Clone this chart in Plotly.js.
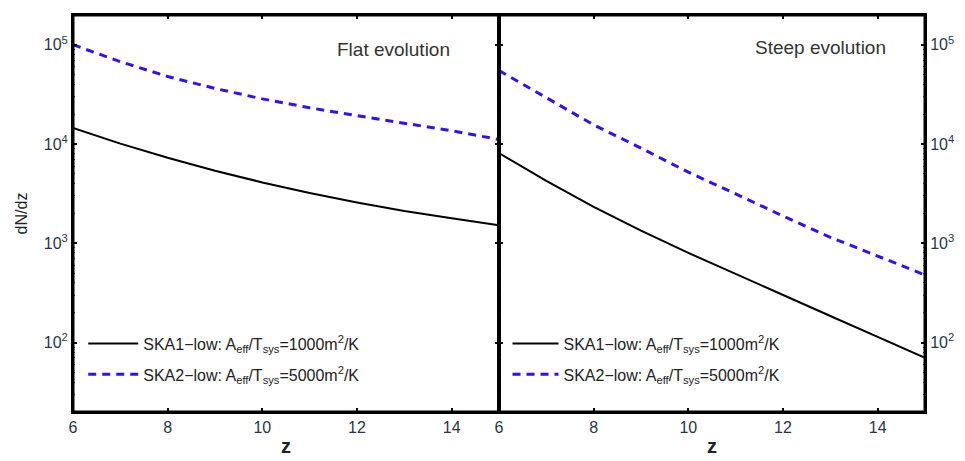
<!DOCTYPE html>
<html>
<head>
<meta charset="utf-8">
<script src="https://cdn.plot.ly/plotly-3.0.1.min.js"></script>
<style>html,body{margin:0;padding:0;background:#fff;}#chart{width:965px;height:461px;}</style>
</head>
<body>
<div id="chart"></div>
<script>
const z = [6, 7, 8, 9, 10, 11, 12, 13, 14, 15];
const flatSKA1 = [14500, 10100, 7260, 5380, 4100, 3210, 2580, 2120, 1790, 1520];
const flatSKA2 = [100000, 67600, 47900, 36300, 28500, 23200, 19300, 16200, 13600, 11100];
const steepSKA1 = [8100, 4250, 2330, 1340, 800, 488, 300, 185, 114, 70];
const steepSKA2 = [55000, 29000, 15600, 9100, 5200, 3150, 1880, 1150, 740, 480];
const seriesNames = [
  'SKA1\u2212low: A<sub>eff</sub>/T<sub>sys</sub>=1000m<sup>2</sup>/K',
  'SKA2\u2212low: A<sub>eff</sub>/T<sub>sys</sub>=5000m<sup>2</sup>/K'
];
const panelLabels = ['Flat evolution', 'Steep evolution'];
const xTicks = [6, 8, 10, 12, 14];
const yTicks = [100, 1000, 10000, 100000];
const yTickText = ['10<sup>2</sup>', '10<sup>3</sup>', '10<sup>4</sup>', '10<sup>5</sup>'];

const minorY = [];
for (let d = 10; d <= 100000; d *= 10) for (let m = 2; m <= 9; m++) minorY.push(m * d);

const FONT = 'Liberation Sans, Arial, sans-serif';
const blue = '#3311ee';
const solid = {color: '#000', width: 2};
const dashed = {color: blue, width: 3, dash: '8px,6px'};

const traces = [
  {x: z, y: flatSKA1, name: seriesNames[0], xaxis: 'x', yaxis: 'y', line: solid, mode: 'lines', legend: 'legend', legendgroup: 'a'},
  {x: z, y: flatSKA2, name: seriesNames[1], xaxis: 'x', yaxis: 'y', line: dashed, mode: 'lines', legend: 'legend', legendgroup: 'b'},
  {x: z, y: steepSKA1, name: seriesNames[0], xaxis: 'x2', yaxis: 'y2', line: solid, mode: 'lines', legend: 'legend2', legendgroup: 'c'},
  {x: z, y: steepSKA2, name: seriesNames[1], xaxis: 'x2', yaxis: 'y2', line: dashed, mode: 'lines', legend: 'legend2', legendgroup: 'd'}
];

const tickFont = {family: FONT, size: 16, color: '#2a3548'};
function xax(domain, anchor) {
  return {
    domain: domain, anchor: anchor, range: [6, 15], tickvals: xTicks,
    ticks: 'inside', ticklen: 4, tickwidth: 2, tickcolor: '#000',
    showline: true, linecolor: '#000', linewidth: 2, mirror: 'ticks',
    showgrid: false, zeroline: false, tickfont: tickFont,
    title: {text: 'z', font: {family: FONT, size: 20, color: '#222', weight: 'bold'}, standoff: 4},
    automargin: false
  };
}
function yax(anchor, side) {
  return {
    type: 'log', range: [1.3, 5.3], anchor: anchor, side: side,
    tickvals: yTicks, ticktext: yTickText,
    ticks: 'inside', ticklen: 4, tickwidth: 2, tickcolor: '#000',
    minor: {tickvals: minorY, ticks: 'inside', ticklen: 2, tickwidth: 1, tickcolor: '#555'},
    showline: true, linecolor: '#000', linewidth: 2, mirror: 'ticks',
    showgrid: false, zeroline: false, tickfont: tickFont, automargin: false
  };
}

const legendFont = {family: FONT, size: 16, color: '#222'};
const frame = (xr, yr) => ({type: 'rect', xref: xr + ' domain', yref: yr + ' domain', x0: 0, x1: 1, y0: 0, y1: 1, line: {color: '#000', width: 3}, layer: 'above'});
const layout = {
  width: 965, height: 461,
  margin: {l: 73, r: 40, t: 15, b: 49},
  paper_bgcolor: '#fff', plot_bgcolor: '#fff',
  showlegend: true,
  xaxis: xax([0, 0.5], 'y'),
  xaxis2: xax([0.5, 1], 'y2'),
  yaxis: Object.assign(yax('x', 'left'), {title: {text: 'dN/dz', font: {family: FONT, size: 16, color: '#222'}, standoff: 12}}),
  yaxis2: yax('x2', 'right'),
  legend: {x: 0.012, y: 0.215, xanchor: 'left', yanchor: 'top', bgcolor: 'rgba(0,0,0,0)', font: legendFont, traceorder: 'grouped', tracegroupgap: 7, itemwidth: 50},
  legend2: {x: 0.51, y: 0.215, xanchor: 'left', yanchor: 'top', bgcolor: 'rgba(0,0,0,0)', font: legendFont, traceorder: 'grouped', tracegroupgap: 7, itemwidth: 46},
  shapes: [frame('x', 'y'), frame('x2', 'y2')],
  annotations: [
    {text: panelLabels[0], xref: 'x', yref: 'paper', x: 12.78, y: 0.912, yanchor: 'middle', showarrow: false, xanchor: 'center', font: {family: FONT, size: 19, color: '#333'}},
    {text: panelLabels[1], xref: 'x2', yref: 'paper', x: 12.79, y: 0.917, yanchor: 'middle', showarrow: false, xanchor: 'center', font: {family: FONT, size: 19, color: '#333'}}
  ]
};

Plotly.newPlot('chart', traces, layout, {displayModeBar: false, staticPlot: true});
</script>
</body>
</html>
